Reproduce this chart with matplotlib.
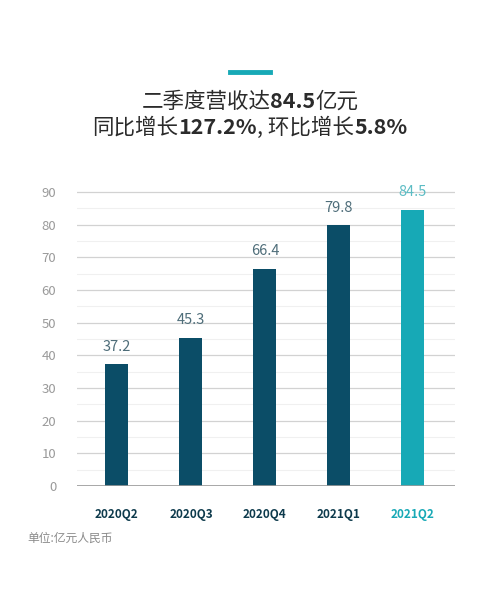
import matplotlib.pyplot as plt
import matplotlib.ticker as mticker

plt.rcParams['font.family'] = ['Noto Sans CJK SC', 'DejaVu Sans']

quarters = ['2020Q2', '2020Q3', '2020Q4', '2021Q1', '2021Q2']
revenue = [37.2, 45.3, 66.4, 79.8, 84.5]

dark = '#0b4d67'
light = '#17a9b6'
bar_colors = [dark, dark, dark, dark, light]
label_colors = ['#4e6d79', '#4e6d79', '#4e6d79', '#4e6d79', '#5cbcc4']
xlab_colors = ['#0d3a4c', '#0d3a4c', '#0d3a4c', '#0d3a4c', light]

fig = plt.figure(figsize=(5, 5.9), dpi=100)
ax = fig.add_axes([0.154, 0.1763, 0.756, 0.5037])

x = range(len(quarters))
ax.bar(x, revenue, width=0.31, color=bar_colors, zorder=3)
for i, v in enumerate(revenue):
    ax.text(i, v + 3.3, f'{v}', ha='center', va='bottom', fontsize=10.5,
            fontweight='light', color=label_colors[i])

ax.set_xlim(-0.54, 4.57)
ax.set_ylim(0, 91)
ax.yaxis.set_major_locator(mticker.MultipleLocator(10))
ax.yaxis.set_minor_locator(mticker.MultipleLocator(5))
ax.grid(axis='y', which='major', color='#d2d2d2', linewidth=0.9, zorder=0)
ax.grid(axis='y', which='minor', color='#f0f0f0', linewidth=0.8, zorder=0)
for s in ['top', 'right', 'left', 'bottom']:
    ax.spines[s].set_visible(False)
ax.axhline(0, color='#9a9a9a', linewidth=1.2, zorder=4)
ax.tick_params(axis='y', which='both', length=0, pad=15, labelsize=9.5, labelcolor='#9a9a9a')
ax.tick_params(axis='x', length=0, pad=16)
for t in ax.get_yticklabels():
    t.set_fontweight('light')
ax.set_xticks(list(x))
ax.set_xticklabels(quarters, fontsize=8.5, fontweight='bold')
for t, c in zip(ax.get_xticklabels(), xlab_colors):
    t.set_color(c)

# decorative line above title
fig.add_artist(plt.Line2D([0.46, 0.54], [1 - 72 / 590] * 2, color=light, linewidth=3.5))


def mixed_line(parts, y):
    # measure widths to center the line of mixed-weight text
    renderer = fig.canvas.get_renderer()
    texts = []
    for s, w in parts:
        t = fig.text(0, y, s, fontsize=15.5, fontweight=w, color='#2b2b2b', va='center')
        texts.append(t)
    widths = [t.get_window_extent(renderer).width for t in texts]
    total = sum(widths)
    xpos = (fig.bbox.width - total) / 2
    for t, wd in zip(texts, widths):
        t.set_x(xpos / fig.bbox.width)
        xpos += wd


mixed_line([('二季度营收达', 'light'), ('84.5', 'bold'), ('亿元', 'light')], 1 - 102 / 590)
mixed_line([('同比增长', 'light'), ('127.2%', 'bold'), (', 环比增长', 'light'), ('5.8%', 'bold')],
           1 - 128 / 590)

fig.text(27 / 500, 1 - 538 / 590, '单位:亿元人民币', fontsize=8.5, fontweight='light',
         color='#8a8a8a', va='center')

fig.savefig('out.png', dpi=100, facecolor='white')
